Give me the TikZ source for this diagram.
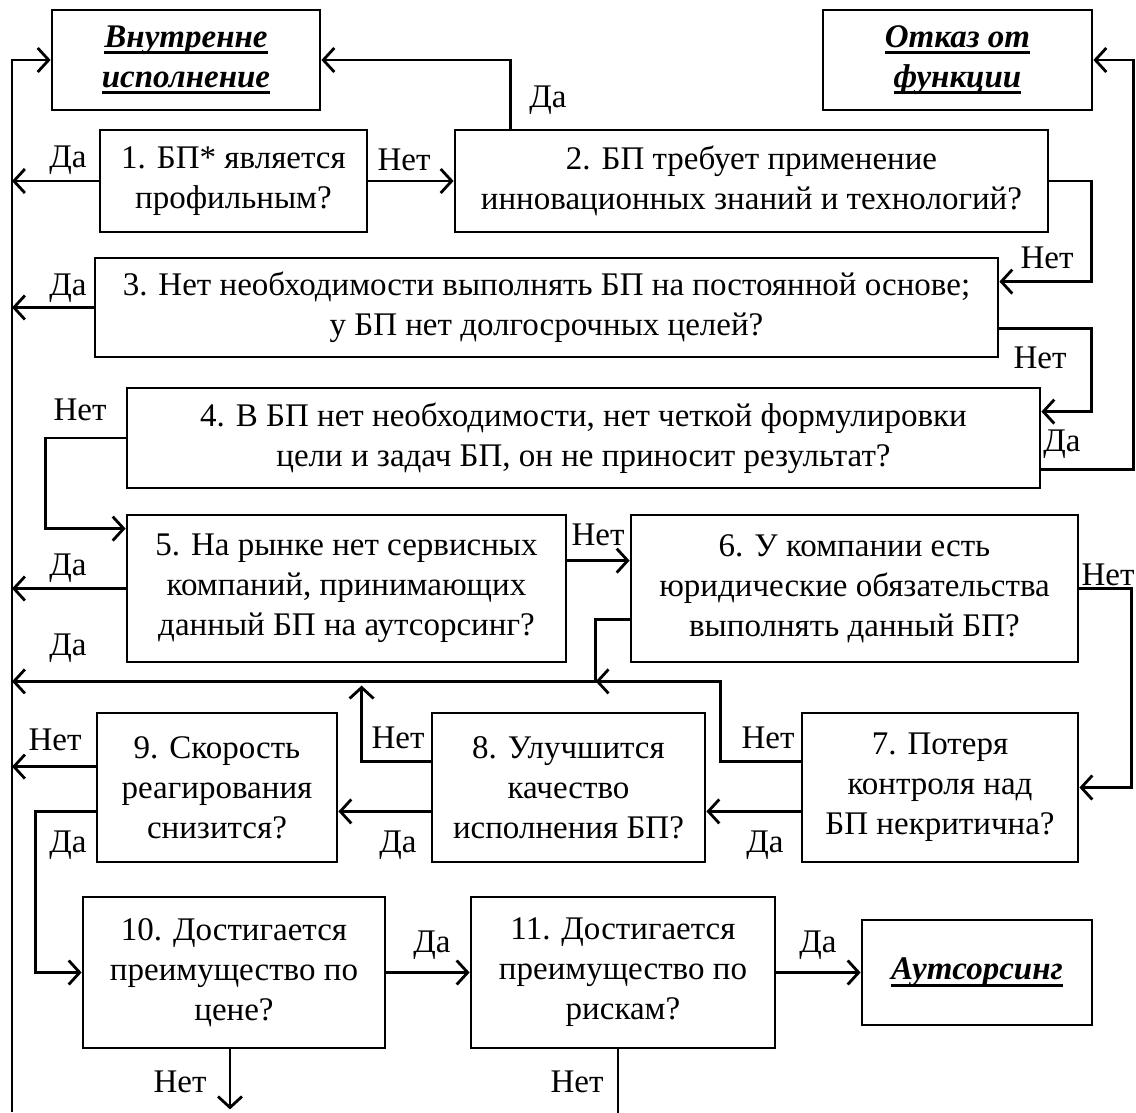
\documentclass[tikz,border=0pt]{standalone}
\usepackage{fontspec}
\setmainfont{Liberation Serif}
\usetikzlibrary{arrows.meta,calc}
\newcommand{\myul}[1]{\setbox0=\hbox{#1}\rlap{\vrule width\wd0 height -4pt depth 7pt}\box0}
\begin{document}
\begin{tikzpicture}[x=1pt,y=-1pt,
  txt/.style={font=\fontsize{33}{40}\selectfont},
  box/.style={draw, line width=2.8pt, align=center, inner sep=0pt, txt},
  term/.style={box, font=\fontsize{33}{40}\selectfont\bfseries\itshape},
  arr/.style={line width=2.8pt, -{Straight Barb[length=11pt,width=24pt,line width=2.8pt]}},
  ln/.style={line width=2.8pt},
  lbl/.style={txt, inner sep=0pt}]
\useasboundingbox (0,0) rectangle (1136,1112);
\fill[white] (0,0) rectangle (1136,1112);
% boxes
\node[term, minimum width=268, minimum height=100] (vn) at (186,60) {\myul{Внутренне}\\\myul{исполнение}};
\node[term, minimum width=269, minimum height=100] (ot) at (957.5,60) {\myul{Отказ от}\\\myul{функции}};
\node[box, minimum width=267, minimum height=102] (b1) at (233.5,181) {1. БП* является\\профильным?};
\node[box, minimum width=593, minimum height=102] (b2) at (751.5,181) {2. БП требует применение\\инновационных знаний и технологий?};
\node[box, minimum width=903, minimum height=99] (b3) at (546.5,307.5) {3. Нет необходимости выполнять БП на постоянной основе;\\у БП нет долгосрочных целей?};
\node[box, minimum width=913, minimum height=100] (b4) at (583.5,438) {4. В БП нет необходимости, нет четкой формулировки\\цели и задач БП, он не приносит результат?};
\node[box, minimum width=439, minimum height=147] (b5) at (346.5,588.5) {5. На рынке нет сервисных\\компаний, принимающих\\данный БП на аутсорсинг?};
\node[box, minimum width=447, minimum height=147] (b6) at (854.5,588.5) {6. У компании есть\\юридические обязательства\\выполнять данный БП?};
\node[box, minimum width=276, minimum height=149] (b7) at (940,787.5) {7. Потеря\\контроля над\\БП некритична?};
\node[box, minimum width=273, minimum height=149] (b8) at (568.5,787.5) {8. Улучшится\\качество\\исполнения БП?};
\node[box, minimum width=240, minimum height=149] (b9) at (217,787.5) {9. Скорость\\реагирования\\снизится?};
\node[box, minimum width=302, minimum height=151] (b10) at (234,972.5) {10. Достигается\\преимущество по\\цене?};
\node[box, minimum width=304, minimum height=151] (b11) at (623,972.5) {11. Достигается\\преимущество по\\рискам?};
\node[term, minimum width=230, minimum height=105] (au) at (977,972.5) {\myul{Аутсорсинг}};
% helper coordinates
\coordinate (L) at (12,0);
\coordinate (Lb) at (12,1112);
\coordinate (J) at ($(b6.south west)+(-34,18)$);
\coordinate (b9no) at ($(b9.north west)+(0,55)$);
% connectors
\draw[arr] (Lb) |- (vn.west);
\draw[arr] ($(b2.north west)+(57,0)$) |- (vn.east);
\draw[arr] (b1.west) -- (b1.west -| L);
\draw[arr] (b1.east) -- (b2.west);
\draw[arr] (b2.east) -| ($(b3.north east)+(92,25)$) -- ($(b3.north east)+(0,25)$);
\draw[arr] (b3.west) -- (b3.west -| L);
\draw[arr] ($(b3.south east)+(0,-30)$) -| ($(b4.north east)+(50,25)$) -- ($(b4.north east)+(0,25)$);
\draw[arr] ($(b4.south east)+(0,-20)$) -| ($(ot.east)+(40,0)$) -- (ot.east);
\draw[arr] (b4.west) -| ($(b5.north west)+(-80,15)$) -- ($(b5.north west)+(0,15)$);
\draw[arr] (b5.west) -- (b5.west -| L);
\draw[arr] ($(b5.north east)+(0,47)$) -- ($(b6.north west)+(0,47)$);
\draw[arr] (b6.east) -| ($(b7.east)+(52,0)$) -- (b7.east);
\draw[arr] ($(b6.north west)+(0,106)$) -| (J) -- (J -| L);
\draw[arr] ($(b7.north west)+(0,50)$) -| ($(J)+(125,0)$) -- (J);
\draw[arr] ($(b8.north west)+(0,50)$) -| ($(b8.north west)+(-69,-26)$);
\draw[arr] ($(b7.south west)+(0,-52)$) -- ($(b8.south east)+(0,-52)$);
\draw[arr] ($(b8.south west)+(0,-52)$) -- ($(b9.south east)+(0,-52)$);
\draw[arr] (b9no) -- (b9no -| L);
\draw[arr] ($(b9.south west)+(0,-52)$) -| ($(b10.west)+(-46,0)$) -- (b10.west);
\draw[arr] (b10.east) -- (b11.west);
\draw[arr] (b11.east) -- (au.west);
\draw[arr] ($(b10.south)+(-4,0)$) -- ++(0,60);
\draw[ln] ($(b11.south)+(-5,0)$) -- ++(0,66);
% labels
\node[lbl] (l1) at (548,100) {Да};
\node[lbl] (l2) at (68,160) {Да};
\node[lbl] (l3) at (404,160) {Нет};
\node[lbl] (l4) at (1047,258) {Нет};
\node[lbl] (l5) at (68,288) {Да};
\node[lbl] (l6) at (1040,358) {Нет};
\node[lbl] (l7) at (80,410) {Нет};
\node[lbl] (l8) at (1062,444) {Да};
\node[lbl] (l9) at (598,535) {Нет};
\node[lbl] (l10) at (68,568) {Да};
\node[lbl] (l11) at (1108,575) {Нет};
\node[lbl] (l12) at (68,648) {Да};
\node[lbl] (l13) at (55,740) {Нет};
\node[lbl] (l14) at (398,738) {Нет};
\node[lbl] (l15) at (768,738) {Нет};
\node[lbl] (l16) at (68,845) {Да};
\node[lbl] (l17) at (398,845) {Да};
\node[lbl] (l18) at (765,845) {Да};
\node[lbl] (l19) at (432,945) {Да};
\node[lbl] (l20) at (818,945) {Да};
\node[lbl] (l21) at (180,1082) {Нет};
\node[lbl] (l22) at (577,1082) {Нет};
\end{tikzpicture}
\end{document}
